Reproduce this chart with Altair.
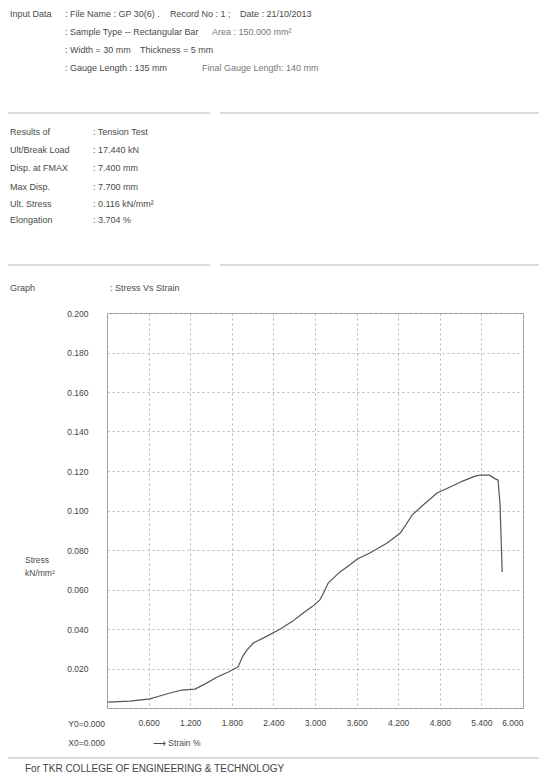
import altair as alt
import pandas as pd

# ---- data ----
strain = [0.01, 0.33, 0.62, 0.76, 0.91, 1.08, 1.27, 1.41, 1.59, 1.75, 1.89, 1.96,
          2.02, 2.11, 2.28, 2.50, 2.68, 2.83, 2.97, 3.07, 3.13, 3.19, 3.36, 3.50,
          3.61, 3.79, 4.04, 4.23, 4.31, 4.40, 4.56, 4.76, 4.95, 5.13, 5.31, 5.38,
          5.52, 5.58, 5.64, 5.67, 5.68, 5.70]
stress = [0.0030, 0.0035, 0.0046, 0.0061, 0.0076, 0.0091, 0.0096, 0.0121, 0.0157,
          0.0182, 0.0208, 0.0263, 0.0294, 0.0329, 0.0359, 0.0400, 0.0440, 0.0481,
          0.0516, 0.0547, 0.0587, 0.0633, 0.0689, 0.0724, 0.0754, 0.0785, 0.0835,
          0.0886, 0.0927, 0.0977, 0.1028, 0.1089, 0.1119, 0.1149, 0.1174, 0.1179,
          0.1179, 0.1164, 0.1154, 0.1027, 0.0901, 0.0689]
x_ticks = [0.0, 0.6, 1.2, 1.8, 2.4, 3.0, 3.6, 4.2, 4.8, 5.4, 6.0]
y_ticks = [0.0, 0.02, 0.04, 0.06, 0.08, 0.10, 0.12, 0.14, 0.16, 0.18, 0.20]

input_lines = [
    ": File Name : GP 30(6) .",
    ": Sample Type -- Rectangular Bar",
    ": Width = 30 mm",
    ": Gauge Length : 135 mm",
]
result_labels = ["Results of", "Ult/Break Load", "Disp. at FMAX", "Max Disp.",
                 "Ult. Stress", "Elongation"]
result_values = [": Tension Test", ": 17.440 kN", ": 7.400 mm", ": 7.700 mm",
                 ": 0.116 kN/mm\u00b2", ": 3.704 %"]

df = pd.DataFrame({"strain": strain, "stress": stress, "i": range(len(strain))})

FONT = "Liberation Sans, Arial, sans-serif"
OX, OY = 107, 313  # plot origin on the page
ONE = alt.Data(values=[{}])


def txt(s, X, Y, align="left", size=9, color="#4a4a4a", baseline="middle"):
    return alt.Chart(ONE).mark_text(
        text=s, align=align, baseline=baseline, fontSize=size, color=color, font=FONT
    ).encode(x=alt.value(X - OX), y=alt.value(Y - OY))


def hline(X1, X2, Y, color="#cfcfcf", w=1.5):
    return alt.Chart(ONE).mark_rule(color=color, strokeWidth=w).encode(
        x=alt.value(X1 - OX), x2=alt.value(X2 - OX), y=alt.value(Y - OY))


axis_common = dict(grid=True, gridDash=[2, 3], gridColor="#b5b5b5", gridWidth=1,
                   domain=False, ticks=False, labelFont=FONT, labelFontSize=8.5,
                   labelColor="#444", format=".3f", title=None)

line = alt.Chart(df).mark_line(color="#555", strokeWidth=1.2).encode(
    x=alt.X("strain:Q", scale=alt.Scale(domain=[0, 6], nice=False, zero=False),
            axis=alt.Axis(values=x_ticks, labelPadding=10,
                          labelExpr="datum.value == 0 ? '' : datum.label", **axis_common)),
    y=alt.Y("stress:Q", scale=alt.Scale(domain=[0, 0.2], nice=False),
            axis=alt.Axis(values=y_ticks, labelPadding=19,
                          labelExpr="datum.value == 0 ? '' : datum.label", **axis_common)),
    order="i:Q",
)

layers = [line]
# separators
layers += [hline(0, 549, 4), hline(0, 210, 113), hline(220, 549, 113),
           hline(0, 210, 265), hline(220, 549, 265), hline(0, 549, 758)]
# input data block
layers.append(txt("Input Data", 10, 14))
for k, s in enumerate(input_lines):
    layers.append(txt(s, 65, 14 + 18 * k))
layers += [txt("Record No : 1 ;", 170, 14), txt("Date : 21/10/2013", 240, 14),
           txt("Area : 150.000 mm\u00b2", 212, 32, color="#777"),
           txt("Thickness = 5 mm", 140, 50),
           txt("Final Gauge Length: 140 mm", 202, 68, color="#777")]
# results block
for k, (a, b) in enumerate(zip(result_labels, result_values)):
    Y = [132, 150, 168, 187, 204, 220][k]
    layers += [txt(a, 10, Y), txt(b, 93, Y)]
# graph block
layers += [txt("Graph", 10, 288), txt(": Stress Vs Strain", 110, 288),
           txt("Stress", 25, 560, size=8.5), txt("kN/mm\u00b2", 25, 573, size=8.5),
           txt("Y0=0.000", 105, 724, align="right", size=8.5, color="#444"),
           txt("X0=0.000", 105, 743, align="right", size=8.5, color="#444"),
           txt("\u27f6 Strain %", 153, 743, size=8.5),
           txt("For  TKR COLLEGE OF ENGINEERING & TECHNOLOGY", 25, 769, size=10,
               color="#444")]

chart = alt.layer(*layers).properties(
    width=416, height=395,
    padding={"left": 99, "top": 305, "right": 16, "bottom": 66},
    autosize=alt.AutoSizeParams(type="none"),
    background="white",
).configure_view(stroke="#999", strokeWidth=1)

chart.save("out.html", embed_options={"renderer": "svg", "actions": False})
